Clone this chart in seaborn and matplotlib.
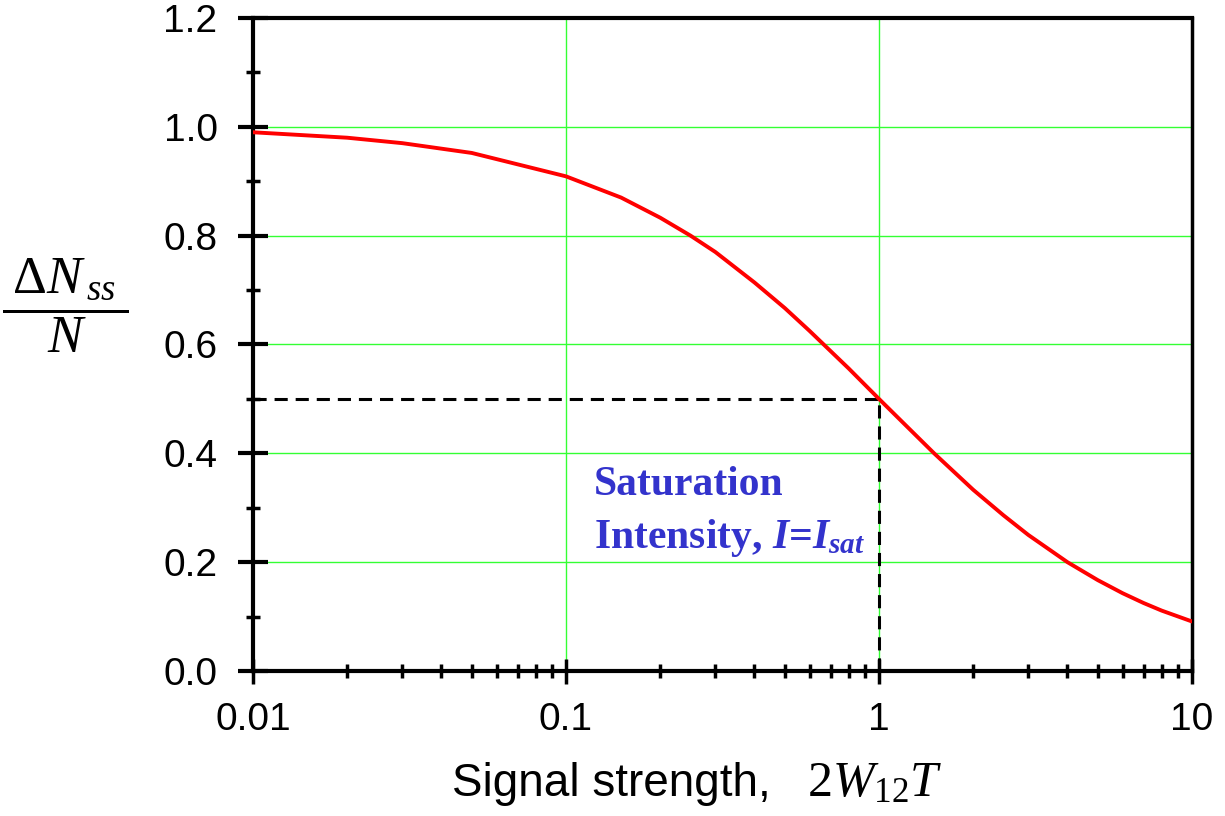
import numpy as np
import pandas as pd
import matplotlib
matplotlib.use("Agg")
import matplotlib.pyplot as plt
import seaborn as sns
from matplotlib.ticker import FixedLocator, FixedFormatter, MultipleLocator, LogLocator, NullFormatter

# curve
signal = [0.01, 0.02, 0.03, 0.05, 0.1, 0.15, 0.2, 0.25, 0.3, 0.4, 0.5, 0.6, 0.7,
          0.8, 1.0, 1.2, 1.5, 2.0, 2.5, 3.0, 4.0, 5.0, 6.0, 7.0, 8.0, 10.0]
population = [0.99, 0.98, 0.97, 0.952, 0.909, 0.87, 0.833, 0.80, 0.77, 0.714, 0.667,
              0.625, 0.588, 0.556, 0.50, 0.455, 0.40, 0.333, 0.286, 0.25, 0.20,
              0.167, 0.143, 0.125, 0.111, 0.091]

# saturation point marked by dashed lines
sat_x = 1.0
sat_y = 0.5

x_ticks = [0.01, 0.1, 1, 10]
x_tick_labels = ["0.01", "0.1", "1", "10"]
y_ticks = [0.0, 0.2, 0.4, 0.6, 0.8, 1.0, 1.2]

df = pd.DataFrame({"signal": signal, "population": population})

sns.set_style("white")
plt.rcParams["font.family"] = ["Liberation Sans", "DejaVu Sans"]
plt.rcParams["text.color"] = "black"
plt.rcParams["xtick.color"] = "black"
plt.rcParams["ytick.color"] = "black"
plt.rcParams["mathtext.fontset"] = "custom"
plt.rcParams["mathtext.rm"] = "Liberation Serif"
plt.rcParams["mathtext.it"] = "Liberation Serif:italic"
plt.rcParams["mathtext.bf"] = "Liberation Serif:bold:italic"

fig = plt.figure(figsize=(12.25, 8.16), dpi=100)
ax = fig.add_axes([253 / 1225, 1 - 671 / 816, (1192 - 253) / 1225, (671 - 18) / 816])

ax.set_xscale("log")
ax.set_xlim(0.01, 10)
ax.set_ylim(0, 1.2)

ax.grid(True, which="major", color="#33ff33", lw=1.0, zorder=0)
ax.set_axisbelow(True)

sns.lineplot(data=df, x="signal", y="population", color="red", lw=2.8, ax=ax, zorder=3)

dash = (0, (4.3, 2.6))
ax.hlines(sat_y, signal[0], sat_x, colors="black", linestyles=dash, lw=2.2, zorder=2)
ax.vlines(sat_x, 0, sat_y, colors="black", linestyles=dash, lw=2.2, zorder=2)

note_style = dict(color="#3333cc", fontsize=30, fontweight="bold",
                  family="Liberation Serif", ha="left", va="baseline")
ax.text(0.123, 0.3235, "Saturation", **note_style)
ax.text(0.123, 0.226, "Intensity, $\\mathbf{I}$=$\\mathbf{I_{sat}}$", **note_style)

ax.xaxis.set_major_locator(FixedLocator(x_ticks))
ax.xaxis.set_major_formatter(FixedFormatter(x_tick_labels))
ax.xaxis.set_minor_locator(LogLocator(base=10, subs=np.arange(2, 10)))
ax.xaxis.set_minor_formatter(NullFormatter())
ax.yaxis.set_major_locator(FixedLocator(y_ticks))
ax.yaxis.set_major_formatter(plt.FormatStrFormatter("%.1f"))
ax.yaxis.set_minor_locator(MultipleLocator(0.1))

ax.tick_params(axis="y", which="major", direction="inout", length=21, width=3,
               labelsize=28, pad=15, left=True, right=False)
ax.tick_params(axis="y", which="minor", direction="inout", length=10, width=2.5,
               left=True, right=False)
ax.tick_params(axis="x", which="major", direction="inout", length=18, width=2.5,
               labelsize=28, pad=13, bottom=True, top=False)
ax.tick_params(axis="x", which="minor", direction="inout", length=10, width=2.5,
               bottom=True, top=False)

for side in ["left", "right", "top", "bottom"]:
    ax.spines[side].set_visible(True)
    ax.spines[side].set_color("black")
    ax.spines[side].set_linewidth(3)
ax.spines["right"].set_linewidth(2.5)

ax.set_xlabel("")
ax.set_ylabel("")

fig.text(452 / 1225, 1 - 796 / 816, "Signal strength,", fontsize=33, ha="left", va="baseline")
fig.text(807 / 1225, 1 - 796 / 816, "$2\\mathit{W}_{12}\\mathit{T}$",
         fontsize=36, ha="left", va="baseline")
fig.text(65 / 1225, 1 - 306 / 816,
         "$\\dfrac{\\;\\Delta \\mathit{N}_{\\,\\mathit{ss}}\\;}{\\mathit{N}}$",
         fontsize=38, ha="center", va="center")

fig.savefig("out.png", dpi=100)
